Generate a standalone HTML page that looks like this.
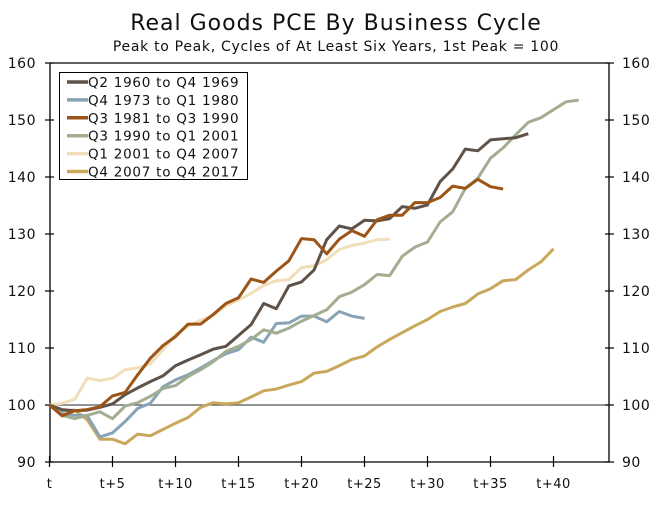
<!DOCTYPE html>
<html><head><meta charset="utf-8"><style>
body{margin:0;background:#fff;}
svg text{font-family:"DejaVu Sans","Liberation Sans",sans-serif;fill:#111;}
</style></head><body>
<svg width="672" height="503" xmlns="http://www.w3.org/2000/svg">
<text x="336" y="30" text-anchor="middle" font-size="22" letter-spacing="1">Real Goods PCE By Business Cycle</text>
<text x="336" y="51" text-anchor="middle" font-size="14" letter-spacing="0.7">Peak to Peak, Cycles of At Least Six Years, 1st Peak = 100</text>
<g id="axes"></g>
<g id="series"></g>
<g id="legend"></g>
</svg>
<script>
const seriesNames=["Q2 1960 to Q4 1969","Q4 1973 to Q1 1980","Q3 1981 to Q3 1990","Q3 1990 to Q1 2001","Q1 2001 to Q4 2007","Q4 2007 to Q4 2017"];
const seriesColors=["#5f5249","#87a3b5","#9c5518","#a3ad90","#f0dfb8","#c9a85c"];
const s1960=[100,99.2,99,99.1,99.6,100.2,101.8,103,104.1,105.1,106.9,107.9,108.8,109.8,110.3,112.2,114.1,117.8,116.9,120.9,121.6,123.7,129,131.4,130.9,132.4,132.3,132.7,134.8,134.5,135.1,139.2,141.4,144.9,144.6,146.5,146.7,146.9,147.6];
const s1973=[100,98.5,98.2,98.1,94.4,95.1,97.1,99.4,100.3,103.2,104.4,105.3,106.5,107.8,109,109.7,111.9,111,114.3,114.4,115.6,115.6,114.6,116.4,115.6,115.2];
const s1981=[100,98.1,99,99.2,99.7,101.6,102.2,105.3,108.2,110.4,112,114.2,114.2,115.9,117.8,118.8,122.1,121.5,123.5,125.3,129.2,129,126.5,129.1,130.6,129.6,132.5,133.3,133.3,135.5,135.5,136.4,138.4,138,139.6,138.3,137.9];
const s1990=[100,98.2,97.6,98.2,98.8,97.6,99.8,100.4,101.5,102.9,103.4,105,106.2,107.6,109.4,110.3,111.5,113.2,112.6,113.5,114.7,115.7,116.7,119,119.8,121.1,122.9,122.7,126.1,127.7,128.6,132.1,133.9,138,139.8,143.3,145.1,147.4,149.6,150.4,151.8,153.2,153.5];
const s2001=[100,100.3,101,104.7,104.3,104.7,106.2,106.5,107.2,109.7,112.4,113.8,114.9,115.7,117.4,118.4,119.6,121,121.8,122,124.1,124.4,125.5,127.3,128,128.4,129,129.1];
const s2007=[100,99,99.1,97.4,94,94,93.2,94.9,94.6,95.7,96.8,97.8,99.6,100.4,100.2,100.4,101.4,102.5,102.8,103.5,104.1,105.6,105.9,106.9,108,108.6,110.2,111.5,112.7,113.9,115,116.4,117.2,117.8,119.5,120.4,121.8,122,123.7,125.1,127.4];
const seriesData=[s1960,s1973,s1981,s1990,s2001,s2007];
const yTicks=[90,100,110,120,130,140,150,160];
const xTicks=[0,5,10,15,20,25,30,35,40];
const xTickLabels=["t","t+5","t+10","t+15","t+20","t+25","t+30","t+35","t+40"];

const NS="http://www.w3.org/2000/svg";
const X0=50,XR=609,YT=63,YB=462;
function xs(q){return 49.5+q*12.6;}
function ys(v){return YB-(v-90)*(YB-YT)/70;}
function mk(tag,attrs,parent){const e=document.createElementNS(NS,tag);for(const k in attrs)e.setAttribute(k,attrs[k]);parent.appendChild(e);return e;}
const ax=document.getElementById('axes');
let e;
e=mk('line',{x1:X0,y1:YT,x2:XR,y2:YT,stroke:'#000','stroke-width':1.3},ax);


e=mk('line',{x1:X0,y1:YT,x2:X0,y2:YB,stroke:'#000','stroke-width':1.3},ax);


e=mk('line',{x1:XR,y1:YT,x2:XR,y2:YB,stroke:'#000','stroke-width':1.3},ax);


e=mk('line',{x1:X0,y1:YB,x2:XR,y2:YB,stroke:'#000','stroke-width':1.3},ax);


e=mk('line',{x1:X0,y1:ys(100),x2:XR,y2:ys(100),stroke:'#555','stroke-width':1.2},ax);


yTicks.forEach(v=>{
  const y=ys(v);
  e=mk('line',{x1:45,y1:y,x2:54,y2:y,stroke:'#000','stroke-width':1.2},ax);
  
  
  e=mk('line',{x1:605,y1:y,x2:614,y2:y,stroke:'#000','stroke-width':1.2},ax);
  
  
  e=mk('text',{x:36,y:y+5,'text-anchor':'end','font-size':14,'letter-spacing':0.5},ax);e.textContent=v;
  
  
  e=mk('text',{x:622,y:y+5,'font-size':14,'letter-spacing':0.5},ax);e.textContent=v;
  
  
});
xTicks.forEach((q,i)=>{
  const x=xs(q);
  e=mk('line',{x1:x,y1:YB-6,x2:x,y2:YB+5,stroke:'#000','stroke-width':1.2},ax);
  
  
  e=mk('text',{x:x,y:488,'text-anchor':'middle','font-size':13,'letter-spacing':0.5},ax);e.textContent=xTickLabels[i];
  
  
});
const sg=document.getElementById('series');
[4,5,1,3,0,2].forEach(i=>{
  const d=seriesData[i].map((v,q)=>(q?'L':'M')+xs(q).toFixed(1)+' '+ys(v).toFixed(1)).join(' ');
  e=mk('path',{d:d,fill:'none',stroke:seriesColors[i],'stroke-width':3,'stroke-linejoin':'round'},sg);
  
  
});
const lg=document.getElementById('legend');
e=mk('rect',{x:59.5,y:72.5,width:188,height:107,fill:'#fff',stroke:'#000','stroke-width':1},lg);


seriesNames.forEach((n,i)=>{
  const y=82+i*17.9;
  e=mk('line',{x1:67,y1:y,x2:88,y2:y,stroke:seriesColors[i],'stroke-width':3.5},lg);
  
  
  e=mk('text',{x:88,y:y+5,'font-size':13.5,'letter-spacing':0.75,fill:'#1a1a30'},lg);e.textContent=n;
  
  
});
</script>
</body></html>
